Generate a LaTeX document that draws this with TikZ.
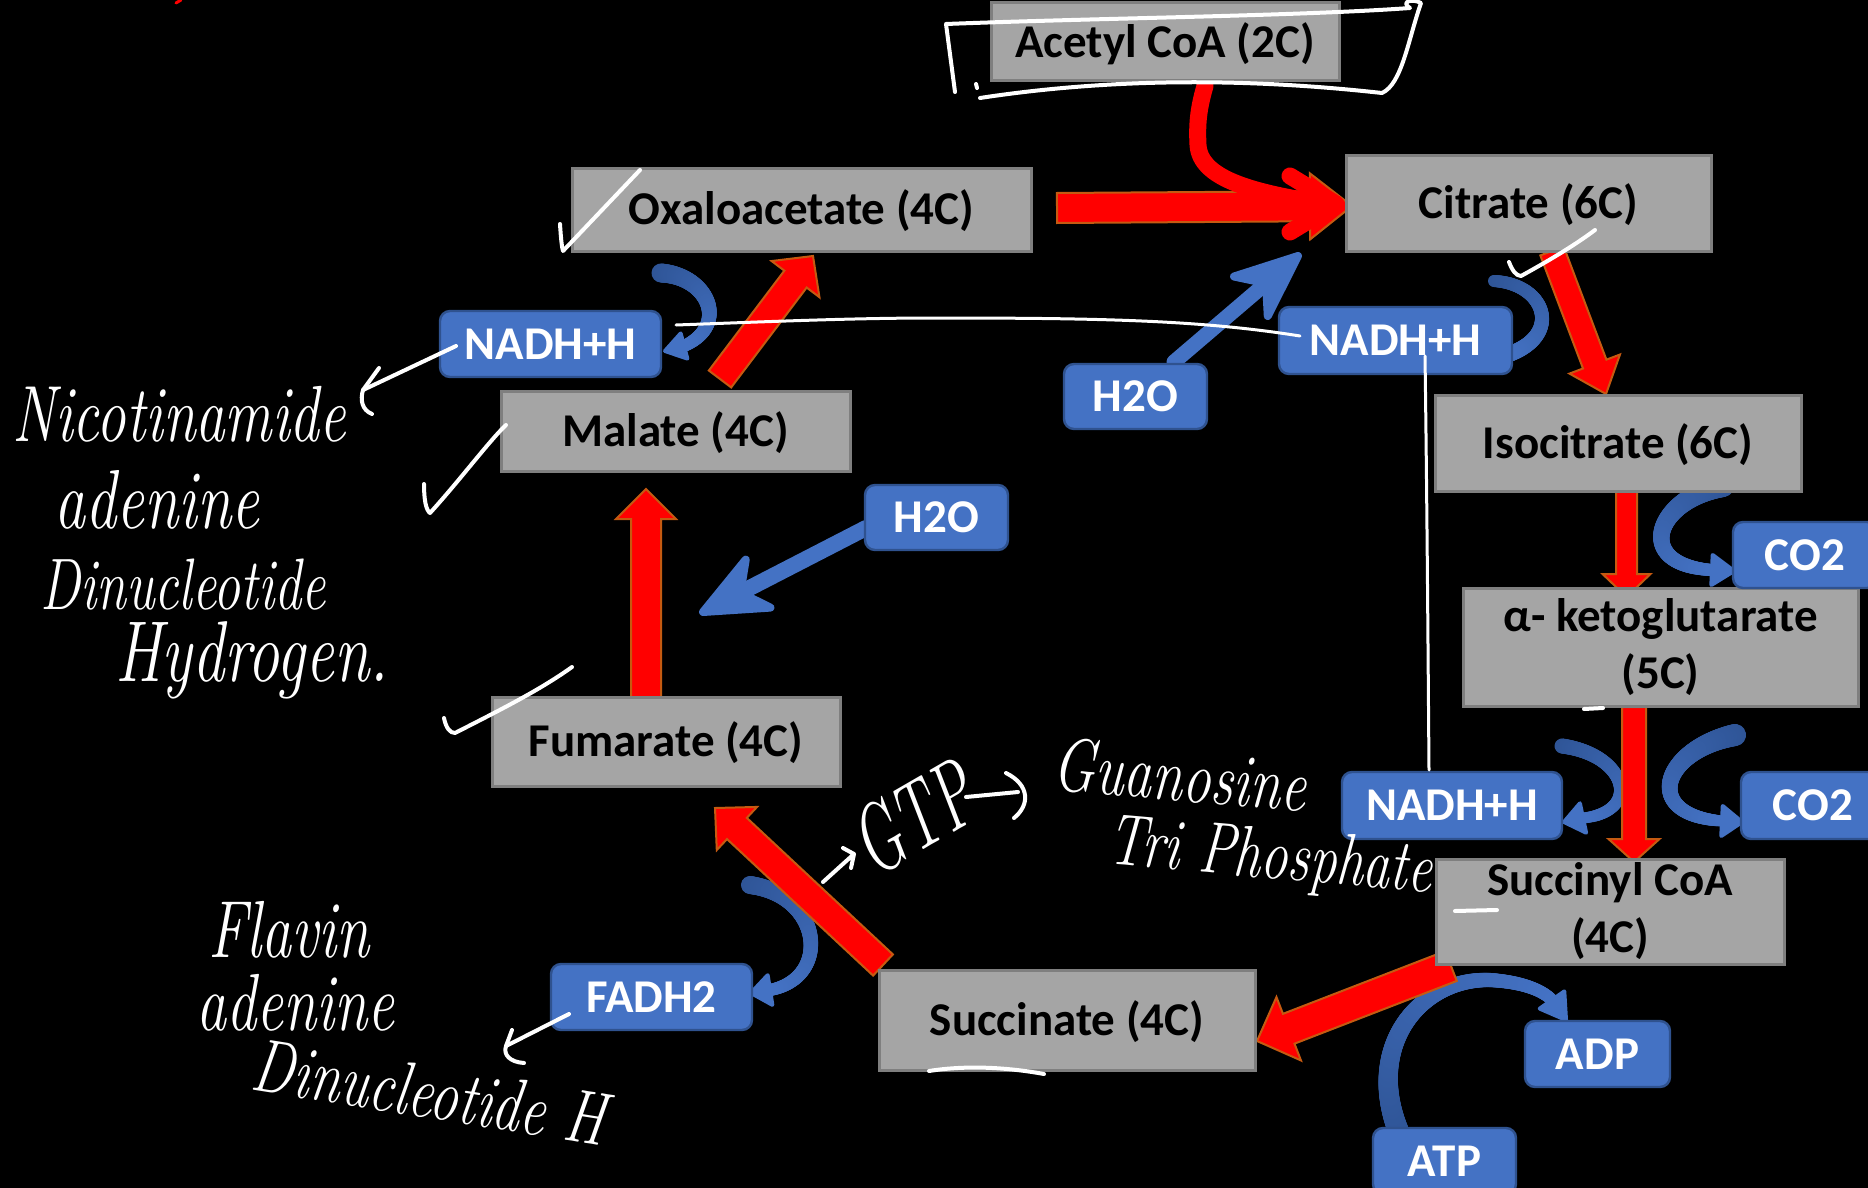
\documentclass[tikz,border=0pt]{standalone}
\usepackage{fontspec}
\usepackage{graphicx}
\newfontfamily\boxfont{Carlito}
\usetikzlibrary{calc,decorations.markings}
\definecolor{gfill}{HTML}{A5A5A5}
\definecolor{gline}{HTML}{7F7F7F}
\definecolor{bfill}{HTML}{4472C4}
\definecolor{bline}{HTML}{2F528F}
\definecolor{bdark}{HTML}{2F5597}
\definecolor{rline}{HTML}{C55A11}
\pgfdeclarelayer{back}
\pgfdeclarelayer{arr}
\pgfsetlayers{back,arr,main}
\tikzset{
 gbox/.style={draw=gline, fill=gfill, line width=1.5pt, inner sep=0pt, align=center, text=black,
   font=\boxfont\bfseries\fontsize{23.5}{28.5}\selectfont},
 gone/.style={gbox, text height=15.4pt, text depth=0pt},
 bbox/.style={draw=bline, fill=bfill, line width=1.2pt, rounded corners=5pt, inner sep=0pt, text=white,
   font=\boxfont\bfseries\fontsize{23.5}{28}\selectfont},
 rarr/.style={fill=red, draw=rline, line width=1pt, line join=miter},
 taper/.style n args={2}{postaction={decorate, decoration={markings,
   mark=between positions 0 and 1 step 0.4pt with {%
     \pgfmathsetmacro\tapf{(\pgfkeysvalueof{/pgf/decoration/mark info/distance from start})/(\pgfdecoratedpathlength)}%
     \pgfmathsetmacro\tapw{#1+(#2-#1)*\tapf}%
     \pgfmathsetmacro\tapc{100*\tapf}%
     \fill[bfill!\tapc!bdark] (0,0) circle (\tapw pt);}}}},
 bhd/.style={fill=bfill, draw=bfill, line width=2pt, line join=round},
 barr/.style={draw=bfill, line cap=round},
 barrhead/.style={fill=bfill, draw=bfill, line width=4pt, line join=round},
 wline/.style={draw=white, line width=2pt, line cap=round, line join=round},
 wthin/.style={draw=white, line width=1.5pt, line cap=round, line join=round},
 hand/.style={text=white, inner sep=0pt}
}
% red block arrow: tail, tip, half shaft, half head, head length
\newcommand\redarr[5]{%
  \path ($(#2)!#5!(#1)$) coordinate (rb);
  \filldraw[rarr] ($(#1)!#3!90:(#2)$) -- ($(rb)!#3!90:(#2)$) -- ($(rb)!#4!90:(#2)$) -- (#2)
    -- ($(rb)!#4!-90:(#2)$) -- ($(rb)!#3!-90:(#2)$) -- ($(#1)!#3!-90:(#2)$) -- cycle;}
% blue straight arrow: tail, tip, line width, half head, head length, notch
\newcommand\bluearr[6]{%
  \path ($(#2)!#5!(#1)$) coordinate (bb) ($(#2)!#6!(#1)$) coordinate (bn);
  \draw[barr, line width=#3] (#1) -- (bn);
  \filldraw[barrhead] (#2) -- ($(bb)!#4!90:(#2)$) -- (bn) -- ($(bb)!#4!-90:(#2)$) -- cycle;}
% head of curved arrow: base, tip, half width
\newcommand\bhead[3]{\filldraw[bhd] (#2) -- ($(#1)!#3!90:(#2)$) -- ($(#1)!#3!-90:(#2)$) -- cycle;}
\begin{document}
\begin{tikzpicture}[x=0.5pt,y=-0.5pt]
\begin{pgfonlayer}{back}
\fill[black] (0,0) rectangle (1868,1188);
\end{pgfonlayer}
\useasboundingbox (0,0) rectangle (1868,1188);

% gray boxes
\node[gone, minimum width=174pt, minimum height=39pt] (acetyl) at (1165,42) {Acetyl CoA (2C)};
\node[gone, minimum width=229.5pt, minimum height=41.5pt] (oxalo) at (801.5,209.5) {Oxaloacetate (4C)};
\node[gone, minimum width=182.5pt, minimum height=48pt] (citrate) at (1528.5,203) {Citrate (6C)};
\node[gone, minimum width=183pt, minimum height=48pt] (iso) at (1618,443) {Isocitrate (6C)};
\node[gbox, minimum width=197.5pt, minimum height=59pt] (akg) at (1660.5,647) {α- ketoglutarate\\(5C)};
\node[gbox, minimum width=174pt, minimum height=52.5pt] (succoa) at (1610,911.5) {Succinyl CoA\\(4C)};
\node[gone, minimum width=188pt, minimum height=50pt] (succ) at (1067,1020) {Succinate (4C)};
\node[gone, minimum width=174pt, minimum height=44.5pt] (fum) at (666,741.5) {Fumarate (4C)};
\node[gone, minimum width=174.5pt, minimum height=40pt] (mal) at (675.5,431) {Malate (4C)};

% blue boxes
\node[bbox, minimum width=110.5pt, minimum height=33pt] (nadhA) at (550.5,344) {NADH+H};
\node[bbox, minimum width=71.5pt, minimum height=32.5pt] (h2oA) at (1135.5,396.5) {H2O};
\node[bbox, minimum width=116.5pt, minimum height=33.5pt] (nadhB) at (1395.5,340.5) {NADH+H};
\node[bbox, minimum width=71.5pt, minimum height=32.5pt] (h2oB) at (936.5,517.5) {H2O};
\node[bbox, minimum width=72pt, minimum height=33pt] (co2A) at (1805,555) {CO2};
\node[bbox, minimum width=72pt, minimum height=33.5pt] (co2B) at (1813,805.5) {CO2};
\node[bbox, minimum width=100.5pt, minimum height=33pt] (fadh) at (651.5,997) {FADH2};
\node[bbox, minimum width=110pt, minimum height=33.5pt] (nadhC) at (1452,805.5) {NADH+H};
\node[bbox, minimum width=72.5pt, minimum height=33pt] (adp) at (1597.5,1054) {ADP};
\node[bbox, minimum width=71.5pt, minimum height=33pt] (atp) at (1444.5,1161) {ATP};

% connector end points
\coordinate (oxT) at (1057,208); \coordinate (ciH) at (1352,206);
\coordinate (ciT) at (1552,251); \coordinate (isH) at (1606,394);
\coordinate (isT) at (1626.5,491); \coordinate (akH) at (1626.5,597);
\coordinate (akT) at (1634,707); \coordinate (scH) at (1634,862);
\coordinate (scT) at (1451,966); \coordinate (suH) at (1257,1041);
\coordinate (suT) at (883,965); \coordinate (fuH) at (715,808);
\coordinate (fuT) at (646,697); \coordinate (maH) at (646,489);
\coordinate (maT) at (720,379); \coordinate (oxH) at (813,256);
\coordinate (waT) at (1174,362); \coordinate (waH) at (1298,256);
\coordinate (wbT) at (866,528); \coordinate (wbH) at (703,612);
\coordinate (c1a) at (661,273); \coordinate (c1b) at (684,346); \coordinate (c1t) at (665,351);
\coordinate (c2a) at (1494,281); \coordinate (c2b) at (1500,357);
\coordinate (c3a) at (1723,486); \coordinate (c3b) at (1712,570); \coordinate (c3t) at (1734,571);
\coordinate (c4a) at (1562,746); \coordinate (c4b) at (1583,818); \coordinate (c4t) at (1564,822);
\coordinate (c5a) at (1735,735); \coordinate (c5b) at (1722,821); \coordinate (c5t) at (1742,822);
\coordinate (c6a) at (1398,1130); \coordinate (c6b) at (1552,1000); \coordinate (c6t) at (1566,1020);
\coordinate (c7a) at (750,885); \coordinate (c7b) at (770,990); \coordinate (c7t) at (751,993);

\begin{pgfonlayer}{arr}
% curved blue arrows (tapered)
\path[taper={4.75}{3}] (c1a) .. controls (708,276) and (730,325) .. (c1b);
\bhead{c1b}{c1t}{6.5pt}
\path[taper={3}{4}] (c2a) .. controls (1548,284) and (1565,340) .. (c2b);
\path[taper={5.5}{3}] (c3a) .. controls (1655,500) and (1632,565) .. (c3b);
\bhead{c3b}{c3t}{7.5pt}
\path[taper={3.75}{2.75}] (c4a) .. controls (1628,755) and (1642,812) .. (c4b);
\bhead{c4b}{c4t}{7.5pt}
\path[taper={5.5}{2.75}] (c5a) .. controls (1662,750) and (1640,815) .. (c5b);
\bhead{c5b}{c5t}{7.5pt}
\path[taper={5.25}{3}] (c6a) .. controls (1365,1045) and (1420,978) .. (1490,980) .. controls (1522,982) and (1542,990) .. (c6b);
\bhead{c6b}{c6t}{7.5pt}
\path[taper={4.5}{3}] (c7a) .. controls (822,895) and (832,978) .. (c7b);
\bhead{c7b}{c7t}{7.5pt}
% straight blue arrows
\bluearr{waT}{waH}{7.5pt}{13pt}{31pt}{21pt}
\bluearr{wbT}{wbH}{8pt}{13.5pt}{31pt}{21pt}
% red arrows
\redarr{oxT}{ciH}{7.5pt}{16.5pt}{21pt}
\redarr{ciT}{isH}{6.25pt}{13.5pt}{16pt}
\redarr{isT}{akH}{5.25pt}{12pt}{11.5pt}
\redarr{akT}{scH}{6pt}{12.75pt}{11.5pt}
\redarr{scT}{suH}{8pt}{17pt}{17pt}
\redarr{suT}{fuH}{7.25pt}{14.75pt}{15pt}
\redarr{fuT}{maH}{7.5pt}{15pt}{15pt}
\redarr{maT}{oxH}{7pt}{15pt}{14.5pt}
% acetyl CoA curved arrow
\coordinate (acT) at (1205,86); \coordinate (acH) at (1336,204);
\draw[red, line width=8.5pt, line cap=round] (acT) .. controls (1198,110) and (1197,125) .. (1198,145)
  .. controls (1200,178) and (1250,192) .. (1320,203);
\draw[red, line width=8.5pt, line cap=round, line join=round] (1290,176) -- (acH) -- (1290,232);
\end{pgfonlayer}

% white hand-drawn marks
\draw[wline] (955,92) -- (946,24) .. controls (1100,18) and (1300,16) .. (1410,8)
  .. controls (1400,2) and (1412,-2) .. (1421,3) .. controls (1408,40) and (1402,84) .. (1382,93)
  .. controls (1300,84) and (1150,72) .. (980,98);
\draw[wline] (976,84) -- (977,88);
\draw[wline] (560,224) .. controls (561,240) and (562,248) .. (563,251) -- (640,170);
\draw[wline] (424,484) .. controls (424,500) and (426,510) .. (430,513) .. controls (460,480) and (490,440) .. (506,425);
\draw[wline] (444,718) .. controls (446,728) and (450,733) .. (455,733) .. controls (500,710) and (540,690) .. (572,667);
\draw[wline] (1509,262) .. controls (1512,270) and (1516,276) .. (1521,276) .. controls (1550,260) and (1575,245) .. (1595,230);
\draw[wline] (929,1071) .. controls (960,1066) and (1000,1066) .. (1044,1074);
\draw[wline] (1455,911) -- (1497,910);
\draw[wline] (1584,709) -- (1603,708);
\draw[red, line width=1.5pt, line cap=round] (176,3) -- (181,0);
% white connectors
\coordinate (lnA) at (676,325); \coordinate (lnB) at (1300,336);
\coordinate (lnC) at (1425,356); \coordinate (lnD) at (1429,770);
\draw[wthin] (lnA) .. controls (760,322) and (850,318) .. (934,318) .. controls (1100,318) and (1200,320) .. (lnB);
\draw[wthin] (lnC) .. controls (1427,500) and (1428,650) .. (lnD);
\coordinate (naA) at (456,346); \coordinate (naB) at (363,390);
\draw[wline] (naA) -- (naB);
\draw[wline] (379,368) -- (naB) .. controls (360,400) and (362,410) .. (372,414);
\coordinate (faA) at (569,1014); \coordinate (faB) at (506,1046);
\draw[wline] (faA) -- (faB);
\draw[wline] (512,1030) -- (faB) .. controls (503,1055) and (510,1062) .. (524,1063);
% hand-drawn arrows round GTP
\draw[wline] (823,882) -- (854,854) (843,848) -- (854,854) -- (851,868);
\draw[wline] (966,797) -- (1018,792) (1006,773) .. controls (1030,785) and (1030,805) .. (1014,818);

% handwritten texts
\node[hand, anchor=west, font=\itshape\fontsize{29.5}{30}\selectfont] (nic) at (12,414) {\scalebox{1}[1.35]{Nicotinamide}};
\node[hand, anchor=west, font=\itshape\fontsize{31}{30}\selectfont] (adeA) at (54,500) {\scalebox{1}[1.35]{adenine}};
\node[hand, anchor=west, font=\itshape\fontsize{27}{30}\selectfont] (dinA) at (40,585) {\scalebox{1}[1.35]{Dinucleotide}};
\node[hand, anchor=west, font=\itshape\fontsize{32}{30}\selectfont] (hyd) at (115,660) {\scalebox{1}[1.35]{Hydrogen.}};
\node[hand, anchor=west, font=\itshape\fontsize{30}{30}\selectfont] (flav) at (208,930) {\scalebox{1}[1.35]{Flavin}};
\node[hand, anchor=west, font=\itshape\fontsize{30}{30}\selectfont] (adeB) at (196,1003) {\scalebox{1}[1.35]{adenine}};
\node[hand, rotate=-9, font=\itshape\fontsize{28}{30}\selectfont] (dinB) at (430,1092) {\scalebox{1}[1.35]{Dinucleotide H}};
\node[hand, rotate=30, font=\itshape\fontsize{30}{30}\selectfont] (gtp) at (913,818) {\scalebox{1}[1.6]{GTP}};
\node[hand, rotate=-5, font=\itshape\fontsize{28}{30}\selectfont] (guan) at (1180,775) {\scalebox{1}[1.35]{Guanosine}};
\node[hand, rotate=-5, font=\itshape\fontsize{27}{30}\selectfont] (tri) at (1270,860) {\scalebox{1}[1.35]{Tri Phosphate}};
\end{tikzpicture}
\end{document}
